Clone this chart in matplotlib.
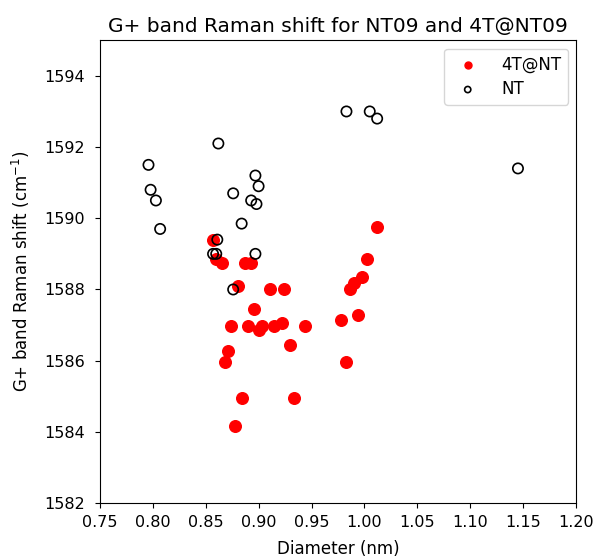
import numpy as np
import matplotlib.pyplot as plt

# NT09 (empty tubes)
nt_diam = [0.796, 0.798, 0.803, 0.807, 0.862, 0.876, 0.897, 0.900, 0.893, 0.898,
           0.884, 0.861, 0.857, 0.860, 0.897, 0.876, 0.983, 1.005, 1.012, 1.145]
nt_shift = [1591.5, 1590.8, 1590.5, 1589.7, 1592.1, 1590.7, 1591.2, 1590.9, 1590.5, 1590.4,
            1589.85, 1589.4, 1589.0, 1589.0, 1589.0, 1588.0, 1593.0, 1593.0, 1592.8, 1591.4]

# 4T@NT09 (filled tubes)
t4_diam = [0.857, 0.860, 0.865, 0.887, 0.893, 0.881, 0.911, 0.924, 0.896,
           1.002, 0.998, 0.990, 0.986, 1.012,
           0.874, 0.890, 0.903, 0.900, 0.915, 0.922, 0.944, 0.978, 0.994,
           0.871, 0.868, 0.930, 0.983, 0.884, 0.933, 0.878]
t4_shift = [1589.4, 1588.85, 1588.73, 1588.75, 1588.75, 1588.1, 1588.0, 1588.0, 1587.45,
            1588.85, 1588.36, 1588.17, 1588.0, 1589.75,
            1586.97, 1586.97, 1586.97, 1586.87, 1586.97, 1587.07, 1586.97, 1587.15, 1587.27,
            1586.27, 1585.96, 1586.45, 1585.96, 1584.96, 1584.96, 1584.16]

fig = plt.figure(figsize=(5.94, 5.59), dpi=100)
ax = fig.add_axes([0.168, 0.100, 0.802, 0.828])

ax.scatter(t4_diam, t4_shift, s=70, color='red', label='4T@NT')
ax.scatter(nt_diam, nt_shift, s=55, facecolors='none', edgecolors='black',
           linewidths=1.2, label='NT')

ax.set_xlim(0.75, 1.20)
ax.set_ylim(1582, 1595)
ax.set_xticks(np.arange(0.75, 1.201, 0.05))
ax.set_yticks(np.arange(1582, 1595, 2))
ax.tick_params(labelsize=11.5)
ax.tick_params(axis='x', pad=5)
ax.tick_params(axis='y', pad=7)
ax.set_xlabel('Diameter (nm)', fontsize=12, labelpad=7)
ax.set_ylabel('G+ band Raman shift (cm$^{-1}$)', fontsize=12, labelpad=9)
ax.set_title('G+ band Raman shift for NT09 and 4T@NT09', fontsize=14.5)
ax.legend(loc='upper right', fontsize=12, markerscale=0.6, handletextpad=1.0,
          labelspacing=0.4)

fig.savefig('out.png', dpi=100)
